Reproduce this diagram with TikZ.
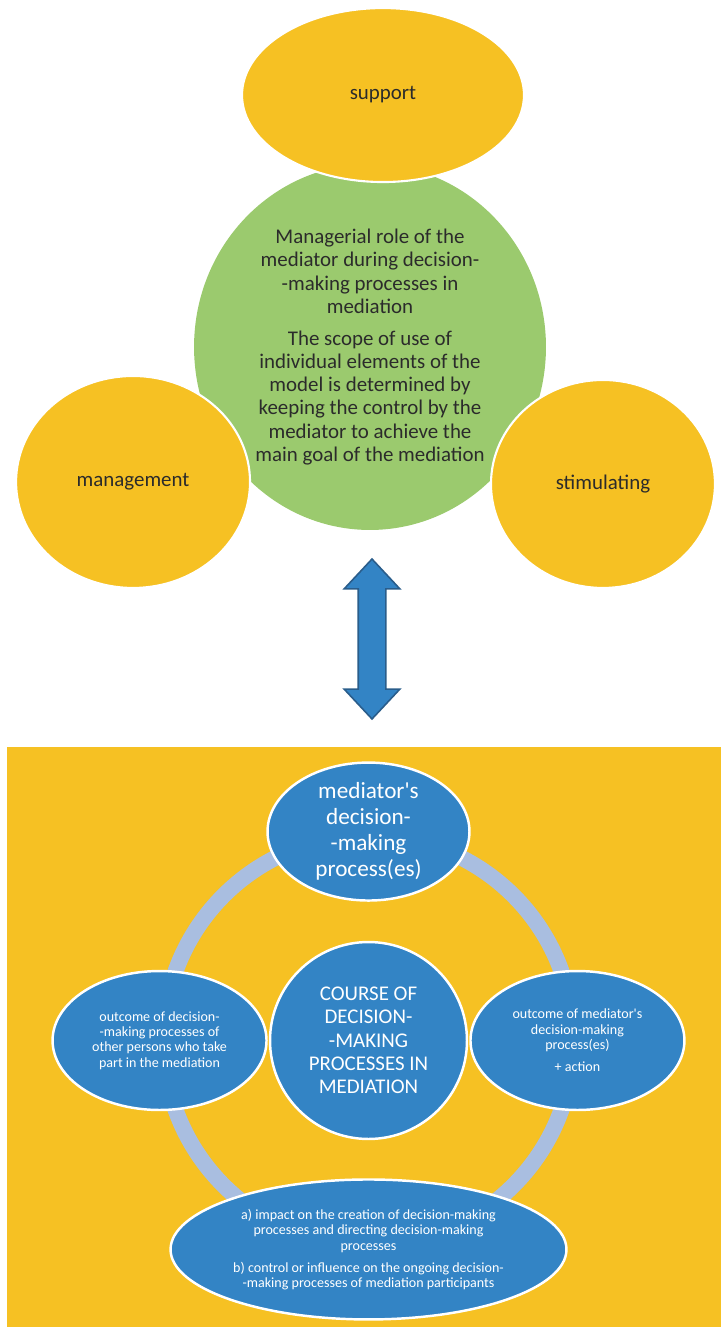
\documentclass[tikz,border=0pt]{standalone}
\usepackage{fontspec}
\setmainfont{Carlito}
\usepackage{xcolor}
\usetikzlibrary{shapes.geometric, shapes.arrows, positioning}

\definecolor{gold}{HTML}{F6C123}
\definecolor{leaf}{HTML}{9BCA6E}
\definecolor{sky}{HTML}{3384C5}
\definecolor{skyedge}{HTML}{2A5D8B}
\definecolor{ringblue}{HTML}{A9BEE0}
\definecolor{ink}{HTML}{2B2B2B}

\begin{document}
\begin{tikzpicture}[
    x=0.02cm, y=0.02cm,
    node distance=4.18cm,
    role/.style={ellipse, fill=leaf, inner sep=0pt, text=ink, align=center, font=\fontsize{11.9}{13.2}\selectfont},
    factor/.style={ellipse, fill=gold, draw=white, line width=1.2pt, inner sep=0pt, text=ink, font=\fontsize{11.9}{13.2}\selectfont},
    stage/.style={ellipse, fill=sky, draw=white, line width=1.4pt, inner sep=0pt, text=white, align=center, minimum width=4.28cm, minimum height=2.78cm, font=\fontsize{8}{8.8}\selectfont},
    link/.style={double arrow, fill=sky, draw=skyedge, line width=0.9pt, inner xsep=0pt, inner ysep=0.26cm}
]
\useasboundingbox (0,0) rectangle (721,-1327);

% upper part: managerial role
\node[role, minimum width=7.04cm, minimum height=7.32cm] (role) at (370,-347) {Managerial role of the\\ mediator during decision-\\ -making processes in\\ mediation\\[5pt] The scope of use of\\ individual elements of the\\ model is determined by\\ keeping the control by the\\ mediator to achieve the\\ main goal of the mediation};
\node[factor, above of=role, xshift=0.26cm, yshift=0.86cm, minimum width=5.64cm, minimum height=3.48cm] (support) {support};
\node[factor, left of=role, xshift=-0.56cm, yshift=-2.7cm, minimum width=4.68cm, minimum height=4.24cm] (management) {management};
\node[factor, right of=role, xshift=0.48cm, yshift=-2.74cm, minimum width=4.48cm, minimum height=4.16cm] (stimulating) {stimulating};

% two-way arrow
\node[link, rotate=90, minimum height=3.2cm, minimum width=1.08cm, double arrow head extend=0.28cm, double arrow tip angle=86] (link) at (372,-639) {};

% lower part: course of decision-making
\fill[gold] (7,-747) rectangle (721,-1327);
\node[stage, circle, minimum size=3.94cm, font=\fontsize{11.9}{13.3}\selectfont] (course) at (368.5,-1040.5) {COURSE OF\\ DECISION-\\ -MAKING\\ PROCESSES IN\\ MEDIATION};
\draw[ringblue, line width=0.32cm] (course.center) circle[radius=4.1cm];
\node[stage, above of=course, minimum width=4.04cm, minimum height=2.76cm, font=\fontsize{13.2}{14.7}\selectfont] (mediator) {mediator\textquotesingle s\\ decision-\\ -making\\ process(es)};
\node[stage, left of=course] (others) {outcome of decision-\\ -making processes of\\ other persons who take\\ part in the mediation};
\node[stage, right of=course] (outcome) {outcome of mediator\textquotesingle s\\ decision-making\\ process(es)\\[3.7pt] + action};
\node[stage, below of=course, minimum width=7.92cm, minimum height=2.8cm] (influence) {a) impact on the creation of decision-making\\ processes and directing decision-making\\ processes\\[3.7pt] b) control or influence on the ongoing decision-\\ -making processes of mediation participants};

\end{tikzpicture}
\end{document}
